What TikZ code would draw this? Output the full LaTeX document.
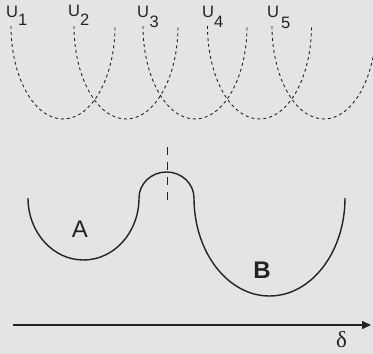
\documentclass[tikz,border=0pt]{standalone}
\usepackage{fontspec}
\setmainfont{Liberation Sans}
\newfontfamily\serifdelta{Liberation Serif}
\usetikzlibrary{arrows.meta}
\definecolor{bg}{RGB}{228,228,228}
\definecolor{ink}{RGB}{35,35,35}
\begin{document}
\begin{tikzpicture}[x=1pt,y=1pt,
  well/.style={draw=ink,line width=1.4pt},
  pot/.style={draw=ink,line width=0.9pt,dash pattern=on 3pt off 3pt},
  ulabel/.style={anchor=base west,inner sep=0pt,font=\fontsize{16.5}{16.5}\selectfont,text=ink},
  letter/.style={anchor=base,inner sep=0pt,font=\fontsize{24}{24}\selectfont,text=ink}]
\fill[bg] (0,0) rectangle (373,354);
\useasboundingbox (0,0) rectangle (373,354);
% dashed parabolas
\foreach \c in {63,126,195,259.5,324}{
  \draw[pot] (\c-52,328) arc[start angle=180,end angle=360,x radius=52,y radius=93];
}
% labels
\node[ulabel] (u1) at (6,336) {U\raisebox{-8pt}{1}};
\node[ulabel] (u2) at (68,337) {U\raisebox{-9pt}{2}};
\node[ulabel] (u3) at (137,336) {U\kern0.5pt\raisebox{-10pt}{3}};
\node[ulabel] (u4) at (202,336) {U\raisebox{-10pt}{4}};
\node[ulabel] (u5) at (267,336) {U\kern2pt\raisebox{-11pt}{5}};
% double well
\coordinate (wstart) at (28,156);
\draw[well] (wstart) arc[start angle=180,end angle=360,x radius=55.5,y radius=62]
  arc[start angle=180,end angle=0,x radius=27.5,y radius=26]
  arc[start angle=180,end angle=360,x radius=75.5,y radius=98];
% barrier marker
\coordinate (bt) at (167,207);
\coordinate (bb) at (167,149);
\draw[draw=ink,line width=0.9pt,dash pattern=on 8pt off 7pt] (bt) -- (bb);
\node[letter] (A) at (80,116) {A};
\node[letter,font=\fontsize{24}{24}\selectfont\bfseries] (B) at (262,75) {B};
% axis
\coordinate (ax0) at (13,29);
\coordinate (ax1) at (371,29);
\draw[draw=ink,line width=1.5pt,-{Triangle[length=9pt,width=8pt]}] (ax0) -- (ax1);
\node[anchor=base,inner sep=0pt,font=\serifdelta\fontsize{23}{23}\selectfont,text=ink] (d) at (341.5,6) {δ};
\end{tikzpicture}
\end{document}
